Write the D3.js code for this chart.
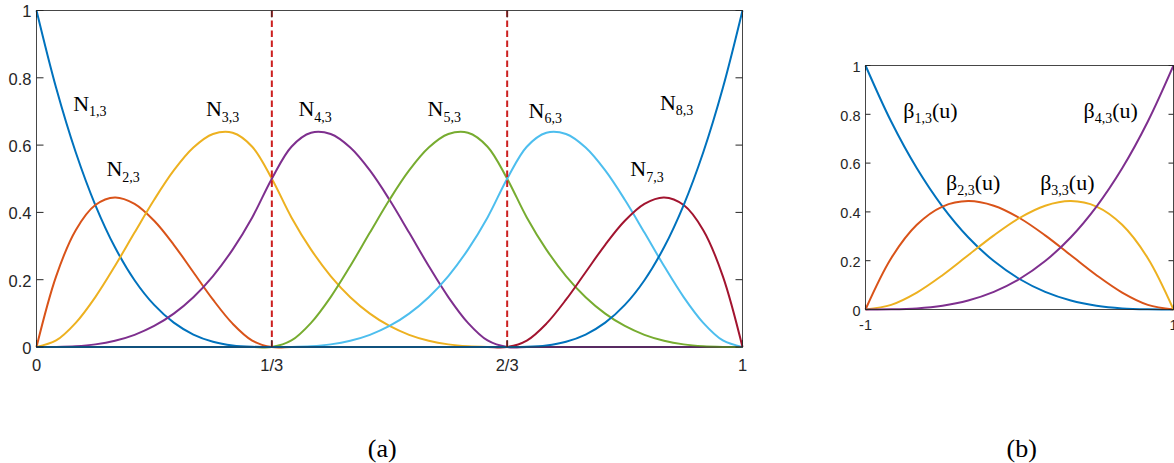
<!DOCTYPE html>
<html>
<head>
<meta charset="utf-8">
<script src="https://cdn.jsdelivr.net/npm/d3@7"></script>
<style>
  html, body { margin: 0; padding: 0; background: #ffffff; }
  svg { display: block; }
</style>
</head>
<body>
<svg id="chart" width="1174" height="463"></svg>
<script>
// ---------- DATA ----------
// Panel (a): cubic B-spline basis functions N_{i,3}, knots [0,0,0,0,1/3,1/3,2/3,2/3,1,1,1,1]
// values sampled at u = k/36, k = 0..36
const N1 = [1, .7703, .5787, .4219, .2963, .1985, .125, .0723, .0370, .0156, .0046, .0006, 0,
            0, 0, 0, 0, 0, 0, 0, 0, 0, 0, 0, 0,
            0, 0, 0, 0, 0, 0, 0, 0, 0, 0, 0, 0];
const N2 = [0, .2101, .3472, .4219, .4444, .4253, .375, .3038, .2222, .1406, .0694, .0191, 0,
            0, 0, 0, 0, 0, 0, 0, 0, 0, 0, 0, 0,
            0, 0, 0, 0, 0, 0, 0, 0, 0, 0, 0, 0];
const N3 = [0, .0194, .0718, .1484, .2407, .3400, .4375, .5246, .5926, .6328, .6366, .5952, .5,
            .3851, .2894, .2109, .1481, .0993, .0625, .0362, .0185, .0078, .0023, .0003, 0,
            0, 0, 0, 0, 0, 0, 0, 0, 0, 0, 0, 0];
const N4 = [0, .0003, .0023, .0078, .0185, .0362, .0625, .0993, .1481, .2109, .2894, .3851, .5,
            .5952, .6366, .6328, .5926, .5246, .4375, .3400, .2407, .1484, .0718, .0194, 0,
            0, 0, 0, 0, 0, 0, 0, 0, 0, 0, 0, 0];
const N5 = [0, 0, 0, 0, 0, 0, 0, 0, 0, 0, 0, 0,
            0, .0194, .0718, .1484, .2407, .3400, .4375, .5246, .5926, .6328, .6366, .5952, .5,
            .3851, .2894, .2109, .1481, .0993, .0625, .0362, .0185, .0078, .0023, .0003, 0];
const N6 = [0, 0, 0, 0, 0, 0, 0, 0, 0, 0, 0, 0,
            0, .0003, .0023, .0078, .0185, .0362, .0625, .0993, .1481, .2109, .2894, .3851, .5,
            .5952, .6366, .6328, .5926, .5246, .4375, .3400, .2407, .1484, .0718, .0194, 0];
const N7 = [0, 0, 0, 0, 0, 0, 0, 0, 0, 0, 0, 0,
            0, 0, 0, 0, 0, 0, 0, 0, 0, 0, 0, 0,
            0, .0191, .0694, .1406, .2222, .3038, .375, .4253, .4444, .4219, .3472, .2101, 0];
const N8 = [0, 0, 0, 0, 0, 0, 0, 0, 0, 0, 0, 0,
            0, 0, 0, 0, 0, 0, 0, 0, 0, 0, 0, 0,
            0, .0006, .0046, .0156, .0370, .0723, .125, .1985, .2963, .4219, .5787, .7703, 1];
const seriesA = [N1, N2, N3, N4, N5, N6, N7, N8];
const namesA = ["1,3", "2,3", "3,3", "4,3", "5,3", "6,3", "7,3", "8,3"];
const knotLinesA = [1 / 3, 2 / 3];
const xTicksA = [0, 1 / 3, 2 / 3, 1];
const xTickLabelsA = ["0", "1/3", "2/3", "1"];
const yTicks = [0, 0.2, 0.4, 0.6, 0.8, 1];
const yTickLabels = ["0", "0.2", "0.4", "0.6", "0.8", "1"];

// Panel (b): cubic Bernstein polynomials on [-1, 1], sampled at 13 points
const B1 = [1, .7703, .5787, .4219, .2963, .1985, .125, .0723, .0370, .0156, .0046, .0006, 0];
const B2 = [0, .2101, .3472, .4219, .4444, .4253, .375, .3038, .2222, .1406, .0694, .0191, 0];
const B3 = [0, .0191, .0694, .1406, .2222, .3038, .375, .4253, .4444, .4219, .3472, .2101, 0];
const B4 = [0, .0006, .0046, .0156, .0370, .0723, .125, .1985, .2963, .4219, .5787, .7703, 1];
const seriesB = [B1, B2, B3, B4];
const namesB = ["1,3", "2,3", "3,3", "4,3"];
const xTicksB = [-1, 1];
const xTickLabelsB = ["-1", "1"];

// ---------- STYLE / LAYOUT ----------
const colors = ["#0072BD", "#D95319", "#EDB120", "#7E2F8E", "#77AC30", "#4DBEEE", "#A2142F", "#0072BD"];
const axisColor = "#262626";
// label anchors in data coordinates
const labelPosA = [[.052, .702], [.099, .508], [.240, .685], [.371, .685], [.554, .685], [.697, .682], [.841, .508], [.883, .705]];
const labelPosB = [[-.755, .785], [-.477, .491], [.134, .491], [.416, .785]];

const svg = d3.select("#chart");
svg.append("rect").attr("width", 1174).attr("height", 463).attr("fill", "#fff");

function drawPanel(opts) {
  const g = svg.append("g");
  const x = d3.scaleLinear().domain(opts.xDomain).range(opts.xRange);
  const y = d3.scaleLinear().domain([0, 1]).range(opts.yRange);
  const [x0, x1] = opts.xRange, [y0, y1] = opts.yRange;
  const n = opts.series[0].length;
  const grid = d3.range(n).map(k => opts.xDomain[0] + (opts.xDomain[1] - opts.xDomain[0]) * k / (n - 1));

  const line = d3.line()
    .x((d, i) => x(grid[i]))
    .y(d => y(d))
    .curve(d3.curveCatmullRom.alpha(0.5));

  opts.series.forEach((s, i) => {
    g.append("path").datum(s).attr("d", line)
      .attr("fill", "none").attr("stroke", colors[i])
      .attr("stroke-width", 2).attr("stroke-linejoin", "round");
  });

  if (opts.knots) {
    opts.knots.forEach(k => {
      g.append("line")
        .attr("x1", x(k)).attr("x2", x(k))
        .attr("y1", y(0)).attr("y2", y(1))
        .attr("stroke", "#CC1F1F").attr("stroke-width", 2)
        .attr("stroke-dasharray", "6.5,3.5");
    });
  }

  // box
  g.append("rect")
    .attr("x", x0).attr("y", y1).attr("width", x1 - x0).attr("height", y0 - y1)
    .attr("fill", "none").attr("stroke", axisColor).attr("stroke-width", 1).attr("opacity", 0.85);

  const tl = opts.tickLen;
  // y ticks
  yTicks.forEach((t, i) => {
    g.append("line").attr("x1", x0).attr("x2", x0 + tl).attr("y1", y(t)).attr("y2", y(t))
      .attr("stroke", axisColor).attr("stroke-width", 1);
    g.append("line").attr("x1", x1).attr("x2", x1 - tl).attr("y1", y(t)).attr("y2", y(t))
      .attr("stroke", axisColor).attr("stroke-width", 1);
    g.append("text").attr("x", x0 - 5).attr("y", y(t) + 1).attr("dy", "0.36em")
      .attr("text-anchor", "end").attr("font-family", "Liberation Sans, Arial, sans-serif")
      .attr("font-size", opts.tickFont).attr("fill", axisColor).text(yTickLabels[i]);
  });
  // x ticks
  opts.xTicks.forEach((t, i) => {
    g.append("line").attr("x1", x(t)).attr("x2", x(t)).attr("y1", y0).attr("y2", y0 - tl)
      .attr("stroke", axisColor).attr("stroke-width", 1);
    g.append("line").attr("x1", x(t)).attr("x2", x(t)).attr("y1", y1).attr("y2", y1 + tl)
      .attr("stroke", axisColor).attr("stroke-width", 1);
    g.append("text").attr("x", x(t)).attr("y", y0 + opts.xLabelOffset)
      .attr("text-anchor", "middle").attr("font-family", "Liberation Sans, Arial, sans-serif")
      .attr("font-size", opts.tickFont).attr("fill", axisColor).text(opts.xTickLabels[i]);
  });

  // curve labels
  opts.labels.forEach((p, i) => {
    const t = g.append("text").attr("x", x(p[0])).attr("y", y(p[1]))
      .attr("font-family", "Liberation Serif, 'Times New Roman', serif")
      .attr("font-size", 22).attr("fill", "#000");
    t.append("tspan").text(opts.symbol);
    t.append("tspan").attr("dy", 5.5).attr("font-size", 14).text(opts.names[i]);
    if (opts.suffix) t.append("tspan").attr("dy", -5.5).text(opts.suffix);
  });
}

drawPanel({
  series: seriesA, names: namesA, symbol: "N", suffix: null,
  xDomain: [0, 1], xRange: [36.5, 742.5], yRange: [347, 10.5],
  knots: knotLinesA, xTicks: xTicksA, xTickLabels: xTickLabelsA,
  labels: labelPosA, tickLen: 7, tickFont: 16.5, xLabelOffset: 24
});

drawPanel({
  series: seriesB, names: namesB, symbol: "β", suffix: "(u)",
  xDomain: [-1, 1], xRange: [865.5, 1173.5], yRange: [309.5, 65.5],
  knots: null, xTicks: xTicksB, xTickLabels: xTickLabelsB,
  labels: labelPosB, tickLen: 5, tickFont: 14.5, xLabelOffset: 20
});

// panel captions
[["(a)", 382.3], ["(b)", 1021.7]].forEach(c => {
  svg.append("text").attr("x", c[1]).attr("y", 457)
    .attr("text-anchor", "middle")
    .attr("font-family", "Liberation Serif, 'Times New Roman', serif")
    .attr("font-size", 26).attr("fill", "#000").text(c[0]);
});
</script>
</body>
</html>
